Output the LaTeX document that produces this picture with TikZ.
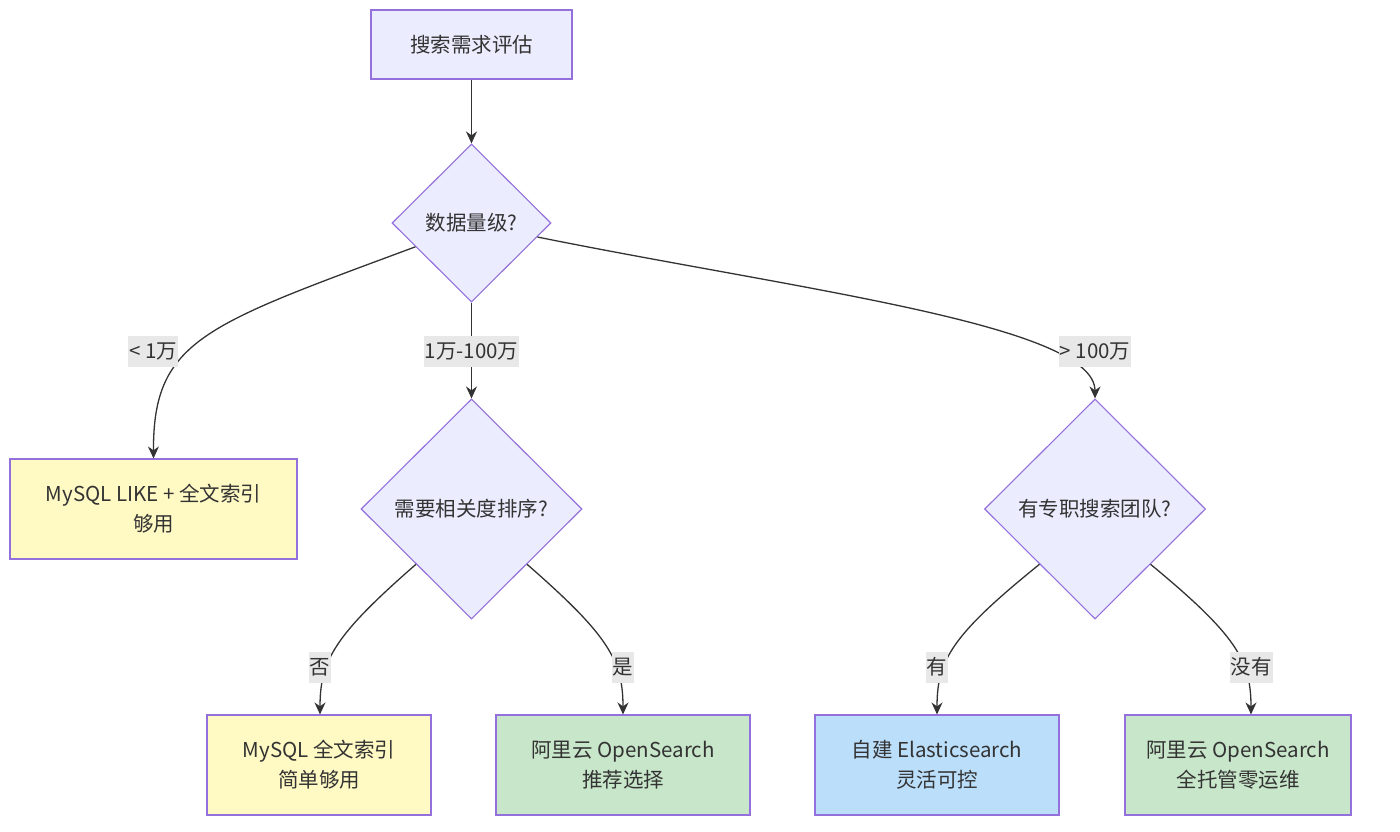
\documentclass[tikz,border=0pt]{standalone}
\usepackage{fontspec}
\setmainfont{Noto Sans CJK SC}
\usetikzlibrary{shapes.geometric,arrows.meta}
\definecolor{pfill}{HTML}{ECECFF}
\definecolor{pline}{HTML}{9370DB}
\definecolor{yfill}{HTML}{FFF9C4}
\definecolor{gfill}{HTML}{C8E6C9}
\definecolor{bfill}{HTML}{BBDEFB}
\definecolor{txt}{HTML}{333333}
\definecolor{lblbg}{HTML}{E8E8E8}
\tikzset{
  base/.style={draw=pline, line width=1.1pt, text=txt, font=\fontsize{20.5}{30}\selectfont, align=center, inner sep=0pt},
  box/.style={base, rectangle, minimum height=100pt},
  dec/.style={base, diamond, fill=pfill},
  conn/.style={draw=txt, line width=1.3pt, -{Stealth[length=12pt,width=11pt]}},
  lbl/.style={fill=lblbg, text=txt, font=\fontsize{20.5}{24}\selectfont, inner xsep=1pt, inner ysep=0pt, minimum height=31pt}
}
\begin{document}
\begin{tikzpicture}[x=1pt,y=-1pt]
\useasboundingbox (0,0) rectangle (1400,832);
\node[base, fill=pfill, minimum width=201pt, minimum height=69pt] (start) at (471.5,44.5) {搜索需求评估};
\node[dec, minimum width=159pt, minimum height=158pt] (d1) at (471.5,223) {数据量级?};
\node[dec, minimum width=221pt, minimum height=220pt] (d2) at (471.5,509) {需要相关度排序?};
\node[dec, minimum width=221pt, minimum height=220pt] (d3) at (1095,509) {有专职搜索团队?};
\node[box, fill=yfill, minimum width=287pt] (b1) at (153.5,509) {MySQL LIKE + 全文索引\\够用};
\node[box, fill=yfill, minimum width=224pt] (b2) at (319,765) {MySQL 全文索引\\简单够用};
\node[box, fill=gfill, minimum width=254pt] (b3) at (623,765) {阿里云 OpenSearch\\推荐选择};
\node[box, fill=bfill, minimum width=244pt] (b4) at (937,765) {自建 Elasticsearch\\灵活可控};
\node[box, fill=gfill, minimum width=226pt] (b5) at (1238,765) {阿里云 OpenSearch\\全托管零运维};

\draw[conn] (start.south) -- (d1.north);
\draw[conn] (d1.203) .. controls (205,325) and (153,340) .. (b1.north);
\draw[conn] (d1.south) -- (d2.north);
\draw[conn] (d1.-12) .. controls (800,290) and (1095,325) .. (d3.north);
\draw[conn] (d2.south west) .. controls (335,635) and (320,660) .. (b2.north -| 320,0);
\draw[conn] (d2.south east) .. controls (608,635) and (623,660) .. (b3.north);
\draw[conn] (d3.south west) .. controls (952,635) and (937,660) .. (b4.north);
\draw[conn] (d3.south east) .. controls (1236,635) and (1251,660) .. (b5.north -| 1251,0);

\node[lbl] (l1) at (153,351) {< 1万};
\node[lbl] (l2) at (471.5,351) {1万-100万};
\node[lbl] (l3) at (1095,351) {> 100万};
\node[lbl] (l4) at (320,667) {否};
\node[lbl] (l5) at (623,667) {是};
\node[lbl] (l6) at (937,667) {有};
\node[lbl] (l7) at (1251,667) {没有};
\end{tikzpicture}
\end{document}
